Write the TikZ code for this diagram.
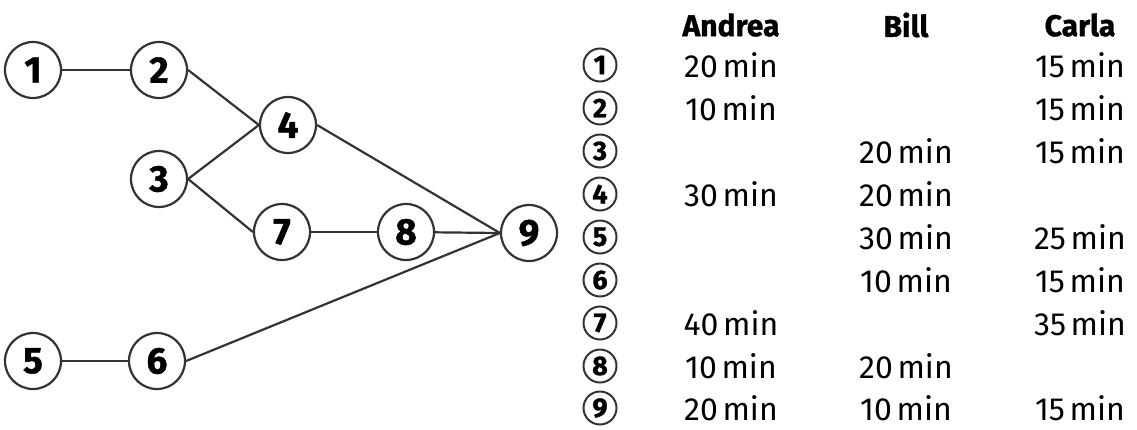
\documentclass[tikz,border=0pt]{standalone}
\usepackage{fontspec}
\setmainfont{Fira Sans}[WordSpace=0.55,BoldFeatures={FakeBold=1.2}]
\definecolor{edgegray}{HTML}{333333}

\begin{document}
\begin{tikzpicture}[x=1pt,y=-1pt,
  task/.style={circle,draw=edgegray,line width=2.2pt,minimum size=56pt,inner sep=0pt,
    font=\fontsize{37}{37}\selectfont\bfseries},
  rowtask/.style={circle,draw=edgegray,line width=2pt,minimum size=33pt,inner sep=0pt,
    font=\fontsize{27}{27}\selectfont\bfseries},
  link/.style={draw=edgegray,line width=2.2pt},
  head/.style={font=\fontsize{30}{30}\selectfont\bfseries},
  cell/.style={font=\fontsize{32}{32}\selectfont}]
  \useasboundingbox (0,0) rectangle (1137,429);
  % network
  \node[task] (n1) at (33,70) {1};
  \node[task] (n2) at (159,70) {2};
  \node[task] (n3) at (159,179) {3};
  \node[task] (n4) at (288,125) {4};
  \node[task] (n5) at (33,361) {5};
  \node[task] (n6) at (157,361) {6};
  \node[task] (n7) at (282,232) {7};
  \node[task] (n8) at (406,232) {8};
  \node[task] (n9) at (529,233) {9};
  \draw[link] (n1) -- (n2);
  \draw[link] (n2.east) -- (n4.west);
  \draw[link] (n3.east) -- (n4.west);
  \draw[link] (n3.east) -- (n7.west);
  \draw[link] (n7) -- (n8);
  \draw[link] (n8) -- (n9.west);
  \draw[link] (n4.east) -- (n9.west);
  \draw[link] (n5) -- (n6);
  \draw[link] (n6.east) -- (n9.west);
  % table
  \node[head] (ha) at (731,25) {Andrea};
  \node[head] (hb) at (906,25) {Bill};
  \node[head] (hc) at (1080,25) {Carla};
  \node[rowtask] (t1) at (600,65) {1};
  \node[rowtask] (t2) at (600,108) {2};
  \node[rowtask] (t3) at (600,151) {3};
  \node[rowtask] (t4) at (600,194) {4};
  \node[rowtask] (t5) at (600,237) {5};
  \node[rowtask] (t6) at (600,280) {6};
  \node[rowtask] (t7) at (600,323) {7};
  \node[rowtask] (t8) at (600,366) {8};
  \node[rowtask] (t9) at (600,408) {9};
  \node[cell] (a1) at (731,65) {20 min};  \node[cell] (c1) at (1080,65) {15 min};
  \node[cell] (a2) at (731,108) {10 min}; \node[cell] (c2) at (1080,108) {15 min};
  \node[cell] (b3) at (906,151) {20 min}; \node[cell] (c3) at (1080,151) {15 min};
  \node[cell] (a4) at (731,194) {30 min}; \node[cell] (b4) at (906,194) {20 min};
  \node[cell] (b5) at (906,237) {30 min}; \node[cell] (c5) at (1080,237) {25 min};
  \node[cell] (b6) at (906,280) {10 min}; \node[cell] (c6) at (1080,280) {15 min};
  \node[cell] (a7) at (731,323) {40 min}; \node[cell] (c7) at (1080,323) {35 min};
  \node[cell] (a8) at (731,366) {10 min}; \node[cell] (b8) at (906,366) {20 min};
  \node[cell] (a9) at (731,408) {20 min}; \node[cell] (b9) at (906,408) {10 min};
  \node[cell] (c9) at (1080,408) {15 min};
\end{tikzpicture}
\end{document}
